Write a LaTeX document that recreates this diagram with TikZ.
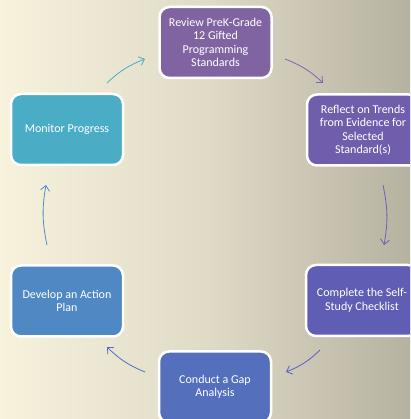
\documentclass[tikz,border=0pt]{standalone}
\usepackage{fontspec}
\setmainfont{Carlito}
\usetikzlibrary{arrows.meta}
\definecolor{bgL}{RGB}{247,242,220}
\definecolor{bgM}{RGB}{224,219,199}
\definecolor{bgR}{RGB}{182,178,160}
\definecolor{cReview}{RGB}{128,100,162}
\definecolor{cReflect}{RGB}{112,94,172}
\definecolor{cComplete}{RGB}{96,94,180}
\definecolor{cConduct}{RGB}{84,112,188}
\definecolor{cDevelop}{RGB}{79,136,194}
\definecolor{cMonitor}{RGB}{75,172,198}
\begin{document}
\begin{tikzpicture}[x=1pt,y=1pt,
  stepbox/.style={draw=white, line width=2.5pt, rounded corners=10pt,
    minimum width=112pt, minimum height=71pt, text=white, align=center,
    font=\fontsize{12}{13.5}\selectfont, inner sep=2pt},
  cyc/.style={line width=0.8pt, -{Straight Barb[length=5pt,width=9pt]}, bend left=11}]
\clip (0,0) rectangle (410,419);
\shade[left color=bgL, right color=bgR, middle color=bgM] (0,0) rectangle (410,419);

\node[stepbox, fill=cReview]   (review)   at (215.5,376.5) {Review PreK-Grade\\12 Gifted\\Programming\\Standards};
\node[stepbox, fill=cReflect]  (reflect)  at (363,289) {Reflect on Trends\\from Evidence for\\Selected\\Standard(s)};
\node[stepbox, fill=cComplete] (complete) at (362,118.5) {Complete the Self-\\Study Checklist};
\node[stepbox, fill=cConduct]  (conduct)  at (215,32) {Conduct a Gap\\Analysis};
\node[stepbox, fill=cDevelop]  (develop)  at (67,118) {Develop an Action\\Plan};
\node[stepbox, fill=cMonitor]  (monitor)  at (67,289.5) {Monitor Progress};

\coordinate (a1s) at (107,336); \coordinate (a1e) at (145,360);
\coordinate (a2s) at (285,360); \coordinate (a2e) at (323,336);
\coordinate (a3s) at (383,234); \coordinate (a3e) at (384,174);
\coordinate (a4s) at (320,69);  \coordinate (a4e) at (286,47);
\coordinate (a5s) at (145,47);  \coordinate (a5e) at (107,72);
\coordinate (a6s) at (47,174);  \coordinate (a6e) at (46,234);

\draw[cyc, draw=cMonitor] (a1s) to (a1e);
\draw[cyc, draw={rgb,255:red,128;green,100;blue,180}] (a2s) to (a2e);
\draw[cyc, draw={rgb,255:red,110;green,92;blue,190}] (a3s) to (a3e);
\draw[cyc, draw={rgb,255:red,90;green,92;blue,200}] (a4s) to (a4e);
\draw[cyc, draw={rgb,255:red,80;green,110;blue,195}] (a5s) to (a5e);
\draw[cyc, draw={rgb,255:red,80;green,140;blue,205}] (a6s) to (a6e);
\end{tikzpicture}
\end{document}
